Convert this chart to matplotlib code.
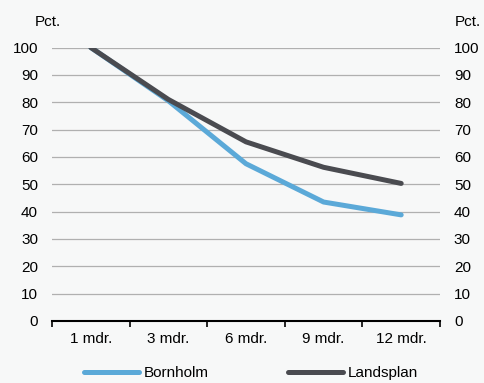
import matplotlib.pyplot as plt

plt.rcParams['font.family'] = ['Liberation Sans', 'DejaVu Sans']

labels = ['1 mdr.', '3 mdr.', '6 mdr.', '9 mdr.', '12 mdr.']
bornholm = [100, 80.5, 57.5, 43.5, 38.8]
landsplan = [100, 81.0, 65.5, 56.2, 50.3]

bg = '#f7f8f8'
fs = 11
fig = plt.figure(figsize=(4.85, 3.83), dpi=100, facecolor=bg)
ax = fig.add_axes([52 / 485, 1 - 321 / 383, 388 / 485, 273.5 / 383])
ax.set_facecolor(bg)

x = range(len(labels))
ax.plot(x, bornholm, color='#5ba9d8', lw=3.6, solid_capstyle='round', label='Bornholm', zorder=3)
ax.plot(x, landsplan, color='#4a4b50', lw=3.6, solid_capstyle='round', label='Landsplan', zorder=4)

ax.set_xlim(-0.5, len(labels) - 0.5)
ax.set_ylim(0, 100)
ax.set_yticks(range(0, 101, 10))
ax.yaxis.grid(True, color='#b0b0b0', lw=0.9)
ax.set_axisbelow(True)
ax.set_xticks(x)
ax.set_xticklabels(labels, fontsize=fs)
ax.set_xticks([i - 0.5 for i in range(len(labels) + 1)], minor=True)
ax.tick_params(axis='x', which='major', length=0, pad=8)
ax.tick_params(axis='x', which='minor', length=4, width=1.2, color='black', direction='out')
ax.tick_params(axis='y', length=0, labelsize=fs, pad=10, labelright=True)
for s in ['top', 'left', 'right']:
    ax.spines[s].set_visible(False)
ax.spines['bottom'].set_linewidth(1.5)

fig.text(35 / 485, 1 - 22 / 383, 'Pct.', fontsize=fs, ha='left', va='center')
fig.text(455 / 485, 1 - 22 / 383, 'Pct.', fontsize=fs, ha='left', va='center')

leg = fig.legend(loc='center', bbox_to_anchor=(0.518, 1 - 373 / 383), ncol=2, frameon=False,
                 fontsize=fs, handlelength=3.6, handletextpad=0.3, columnspacing=5.2)

fig.savefig('out.png', dpi=100, facecolor=bg)
